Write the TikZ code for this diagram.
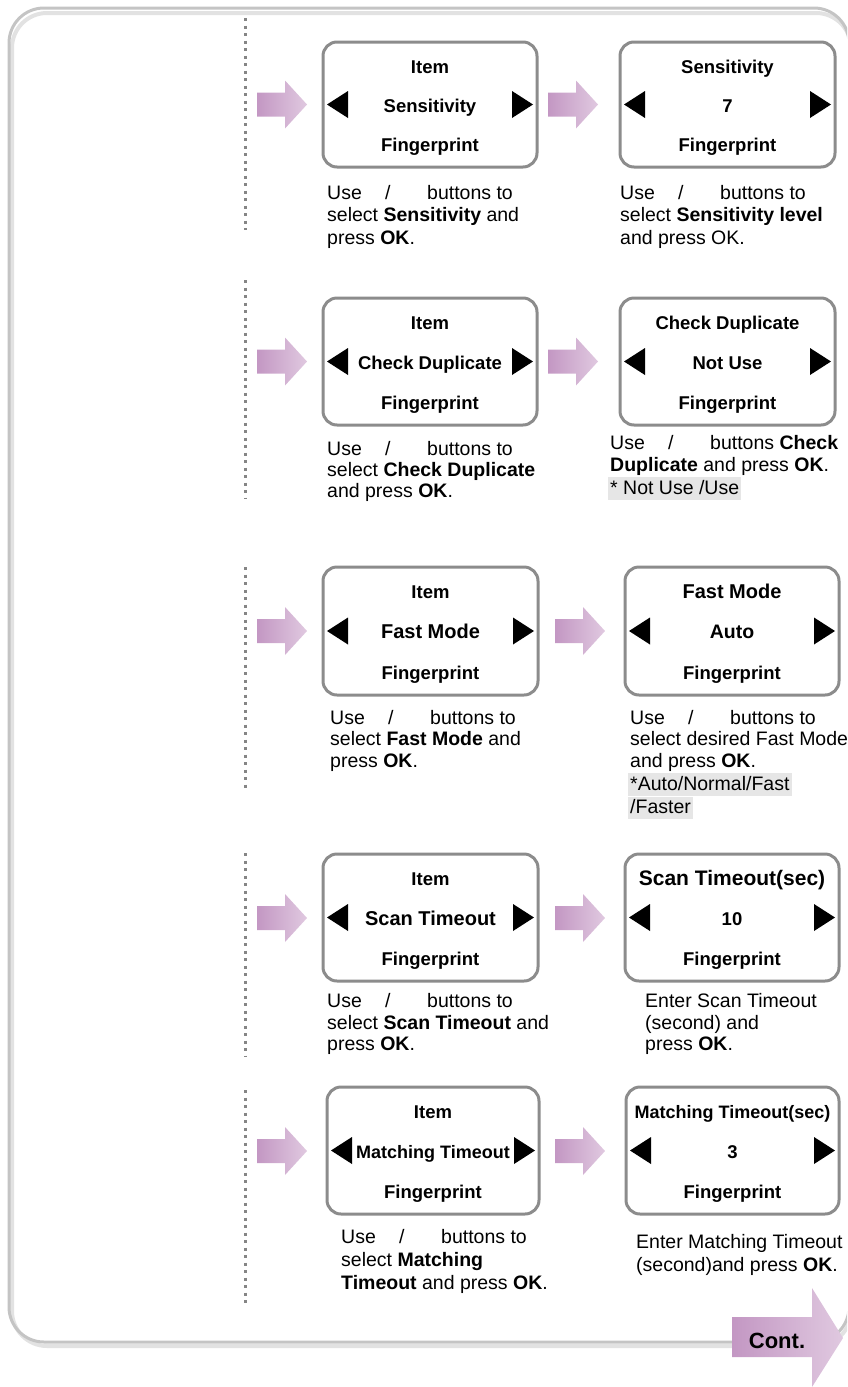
\documentclass[tikz,border=0pt]{standalone}
\usepackage{fontspec}
\setmainfont{Liberation Sans}
\usetikzlibrary{calc}
\definecolor{boxgray}{HTML}{8C8C8C}
\definecolor{framegray}{HTML}{C4C4C4}
\definecolor{shadowgray}{HTML}{E2E2E2}
\definecolor{dotgray}{HTML}{858585}
\definecolor{pinkA}{HTML}{C397C3}
\definecolor{pinkB}{HTML}{E0C9E0}
\definecolor{hl}{HTML}{E6E6E6}
\tikzset{
  scrbox/.style={draw=boxgray, line width=3pt, rounded corners=14pt, fill=white, inner sep=0pt},
  scrtxt/.style={font=\bfseries\fontsize{18.5}{20}\selectfont, inner sep=0pt, anchor=base},
  desc/.style={font=\fontsize{19.5}{22.5}\selectfont, inner sep=0pt, anchor=base west},
  hldesc/.style={desc, fill=hl, inner xsep=2pt, inner ysep=1.5pt, text height=15.5pt, text depth=4pt},
  dotline/.style={dotgray, line width=3pt, dash pattern=on 3pt off 4.5pt},
  pinkarrow/.style={left color=pinkA, right color=pinkB},
  frameline/.style={framegray, line width=3pt, rounded corners=35pt},
  frameshadow/.style={shadowgray, line width=4pt, rounded corners=35pt},
}
\newcommand\UB{\makebox[58pt][l]{Use}\makebox[42pt][l]{/}buttons}
\newcommand\screen[8]{%
  \pgfmathsetmacro\sx{#2}\pgfmathsetmacro\sy{#3}%
  \pgfmathsetmacro\ex{#4}\pgfmathsetmacro\ey{#5}%
  \pgfmathsetmacro\cx{(#2+#4)/2}\pgfmathsetmacro\cy{(#3+#5)/2}%
  \node[scrbox, minimum width={#4-#2}, minimum height={#5-#3}] (#1) at (\cx,\cy) {};
  \node[scrtxt] (#1-a) at (\cx,\sy+31) {#6};
  \node[scrtxt] (#1-b) at (\cx,\cy+7.5) {#7};
  \node[scrtxt] (#1-c) at (\cx,\ey-15.5) {#8};
  \fill (\sx+4,\cy) -- (\sx+25,\cy-13.5) -- (\sx+25,\cy+13.5) -- cycle;
  \fill (\ex-4,\cy) -- (\ex-25,\cy-13.5) -- (\ex-25,\cy+13.5) -- cycle;
}
\newcommand\parrow[2]{%
  \shade[pinkarrow] (#1,#2-12) -- (#1+28,#2-12) -- (#1+28,#2-24) -- (#1+50,#2)
    -- (#1+28,#2+24) -- (#1+28,#2+12) -- (#1,#2+12) -- cycle;
}
\begin{document}
\begin{tikzpicture}[x=1pt,y=-1pt]
\useasboundingbox (0,0) rectangle (847,1387);
\clip (0,0) rectangle (847,1387);
% outer frame
\draw[frameshadow] (12,13) rectangle (851,1346);
\draw[frameline] (9,8) rectangle (849,1342);
% dotted guide lines
\draw[dotline] (245,18) -- (245,230);
\draw[dotline] (245,280) -- (245,498);
\draw[dotline] (245,567) -- (245,790);
\draw[dotline] (245,853) -- (245,1057);
\draw[dotline] (245,1090) -- (245,1307);
% pink arrows
\parrow{257}{104.5}\parrow{548}{104.5}
\parrow{257}{361.5}\parrow{548}{361.5}
\parrow{257}{631}\parrow{555}{631}
\parrow{257}{918}\parrow{555}{918}
\parrow{257}{1151}\parrow{555}{1151}
% screens
\screen{s1l}{323}{42}{537}{167}{Item}{Sensitivity}{Fingerprint}
\screen{s1r}{620}{42}{835}{167}{Sensitivity}{7}{Fingerprint}
\screen{s2l}{323}{298}{537}{425}{Item}{Check Duplicate}{Fingerprint}
\screen{s2r}{620}{298}{835}{425}{Check Duplicate}{Not Use}{Fingerprint}
\screen{s3l}{323}{567}{538}{695}{Item}{\fontsize{20}{22}\selectfont Fast Mode}{Fingerprint}
\screen{s3r}{625}{567}{839}{695}{\fontsize{20}{22}\selectfont Fast Mode}{\fontsize{19.5}{21}\selectfont Auto}{Fingerprint}
\screen{s4l}{323}{854}{538}{981}{Item}{\fontsize{20}{22}\selectfont Scan Timeout}{Fingerprint}
\screen{s4r}{625}{854}{839}{981}{\fontsize{21}{23}\selectfont Scan Timeout(sec)}{10}{Fingerprint}
\screen{s5l}{327}{1087}{539}{1214}{Item}{\fontsize{18}{20}\selectfont Matching Timeout}{Fingerprint}
\screen{s5r}{626}{1087}{839}{1214}{\fontsize{18}{20}\selectfont Matching Timeout(sec)}{3}{Fingerprint}
% descriptions row 1
\node[desc] (d1l1) at (327,199) {\UB{} to};
\node[desc] (d1l2) at (327,221.5) {select \textbf{Sensitivity} and};
\node[desc] (d1l3) at (327,244) {press \textbf{OK}.};
\node[desc] (d1r1) at (620,199) {\UB{} to};
\node[desc] (d1r2) at (620,221.5) {select \textbf{Sensitivity level}};
\node[desc] (d1r3) at (620,244) {and press OK.};
% row 2
\node[desc] (d2l1) at (327,455) {\UB{} to};
\node[desc] (d2l2) at (327,476) {select \textbf{Check Duplicate}};
\node[desc] (d2l3) at (327,497) {and press \textbf{OK}.};
\node[desc] (d2r1) at (610,449) {\UB{} \textbf{Check}};
\node[desc] (d2r2) at (610,471) {\textbf{Duplicate} and press \textbf{OK}.};
\node[hldesc] (d2r3) at (608,494) {* Not Use /Use};
% row 3
\node[desc] (d3l1) at (330,724) {\UB{} to};
\node[desc] (d3l2) at (330,745.5) {select \textbf{Fast Mode} and};
\node[desc] (d3l3) at (330,767) {press \textbf{OK}.};
\node[desc] (d3r1) at (630,724) {\UB{} to};
\node[desc] (d3r2) at (630,745.5) {select desired Fast Mode};
\node[desc] (d3r3) at (630,767) {and press \textbf{OK}.};
\node[hldesc] (d3r4) at (628,790) {*Auto/Normal/Fast};
\node[hldesc] (d3r5) at (628,813.5) {/Faster};
% row 4
\node[desc] (d4l1) at (327,1007) {\UB{} to};
\node[desc] (d4l2) at (327,1029) {select \textbf{Scan Timeout} and};
\node[desc] (d4l3) at (327,1050.5) {press \textbf{OK}.};
\node[desc] (d4r1) at (645,1007) {Enter Scan Timeout};
\node[desc] (d4r2) at (645,1029) {(second) and};
\node[desc] (d4r3) at (645,1050.5) {press \textbf{OK}.};
% row 5
\node[desc] (d5l1) at (341,1243) {\UB{} to};
\node[desc] (d5l2) at (341,1266) {select \textbf{Matching}};
\node[desc] (d5l3) at (341,1289) {\textbf{Timeout} and press \textbf{OK}.};
\node[desc] (d5r1) at (636,1248) {Enter Matching Timeout};
\node[desc] (d5r2) at (636,1271) {(second)and press \textbf{OK}.};
% continue arrow
\shade[pinkarrow] (732,1317) -- (812,1317) -- (812,1288) -- (843,1338) -- (812,1387)
  -- (812,1357) -- (732,1357) -- cycle;
\node[font=\bfseries\fontsize{22}{24}\selectfont, inner sep=0pt, anchor=base] (cont) at (777,1348) {Cont.};
\end{tikzpicture}
\end{document}
